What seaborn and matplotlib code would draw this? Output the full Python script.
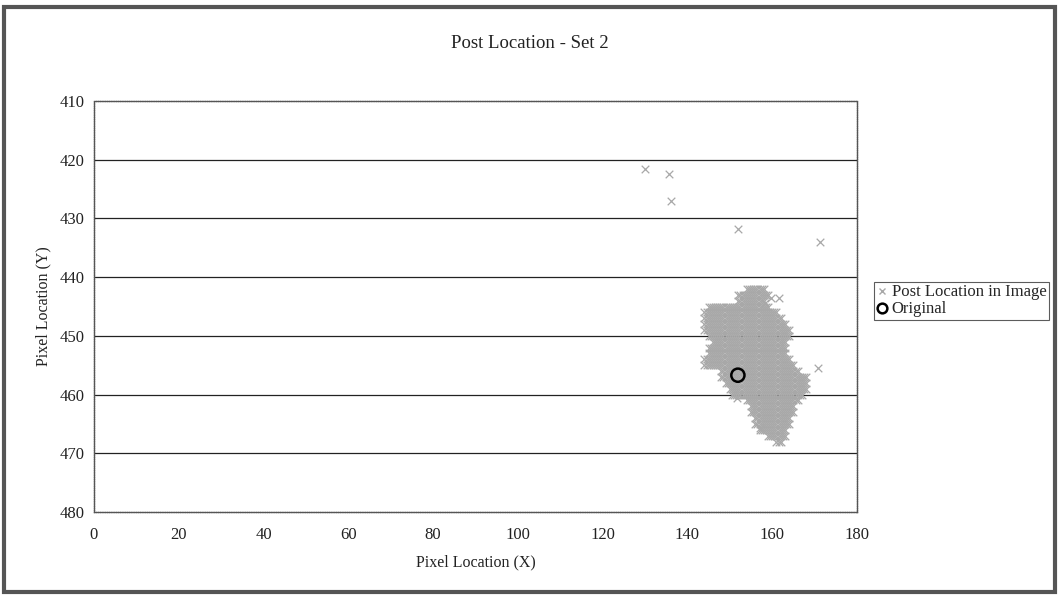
import numpy as np
import pandas as pd
import matplotlib
matplotlib.use("Agg")
import matplotlib.pyplot as plt
import seaborn as sns
from matplotlib.lines import Line2D
from matplotlib.patches import Rectangle

# ---- data ----
# isolated detections (x, y)
outlier_x = [130.0, 135.6, 136.1, 151.9, 171.3, 170.8, 157.0, 150.5, 151.8, 159.8, 161.6, 158.2]
outlier_y = [421.6, 422.4, 427.0, 431.8, 434.0, 455.5, 465.7, 460.0, 460.6, 443.6, 443.6, 444.4]

# dense cluster, row by row: y value and the x extent occupied in that row
cluster_row_y = [442, 443, 444, 445, 446, 447, 448, 449, 450, 451, 452, 453, 454, 455,
                 456, 457, 458, 459, 460, 461, 462, 463, 464, 465, 466, 467, 468]
cluster_row_xmin = [154, 152, 152, 145, 144, 144, 144, 144, 145, 146, 145, 145, 144, 144,
                    148, 148, 149, 150, 151, 154, 155, 155, 156, 156, 157, 159, 161]
cluster_row_xmax = [158, 159, 158, 159, 161, 162, 163, 164, 164, 163, 163, 163, 164, 165,
                    166, 168, 168, 168, 167, 166, 165, 165, 164, 164, 163, 163, 162]

original_x = [151.9]
original_y = [456.7]

x_ticks = [0, 20, 40, 60, 80, 100, 120, 140, 160, 180]
y_ticks = [410, 420, 430, 440, 450, 460, 470, 480]

# ---- build table ----
cx, cy = [], []
for y, a, b in zip(cluster_row_y, cluster_row_xmin, cluster_row_xmax):
    for x in np.arange(a, b + 0.01, 0.5):
        cx.append(x)
        cy.append(y)
post = pd.DataFrame({"x": cx + outlier_x, "y": cy + outlier_y})
orig = pd.DataFrame({"x": original_x, "y": original_y})

sns.set_theme(style="white")
plt.rcParams["font.family"] = ["Liberation Serif", "DejaVu Serif"]

fig = plt.figure(figsize=(10.59, 5.96), dpi=100)
ax = fig.add_axes([94 / 1059, 1 - 512 / 596, (857 - 94) / 1059, (512 - 101) / 596])

gray = "#a8a8a8"
sns.scatterplot(data=post, x="x", y="y", ax=ax, marker="x", color=gray,
                s=30, linewidth=0.9, legend=False, zorder=3)
sns.scatterplot(data=orig, x="x", y="y", ax=ax, marker="o", facecolor="none",
                edgecolor="black", s=90, linewidth=1.8, legend=False, zorder=4)

ax.set_xlim(0, 180)
ax.set_ylim(480, 410)
ax.set_xticks(x_ticks)
ax.set_yticks(y_ticks)
ax.tick_params(axis="both", labelsize=12, colors="#222222", length=4,
               direction="out", width=0.8)
ax.tick_params(axis="x", pad=7)
ax.tick_params(axis="y", pad=3)
for yv in y_ticks[1:-1]:
    ax.axhline(yv, color="#222222", linewidth=0.9, zorder=1)
for sp in ax.spines.values():
    sp.set_color("#555555")
    sp.set_linewidth(1.0)
    sp.set_linestyle((0, (1, 0.6)))
    sp.set_visible(True)

ax.set_xlabel("Pixel Location (X)", fontsize=11.5, color="#222222", labelpad=8)
ax.set_ylabel("Pixel Location (Y)", fontsize=11.5, color="#222222", labelpad=6)
fig.text(0.5, 1 - 44 / 596, "Post Location - Set 2", ha="center", va="center",
         fontsize=13.5, color="#222222")

handles = [
    Line2D([], [], marker="x", linestyle="none", color=gray, markersize=5, markeredgewidth=1.0),
    Line2D([], [], marker="o", linestyle="none", markerfacecolor="none",
           markeredgecolor="black", markersize=7, markeredgewidth=1.8),
]
leg = fig.legend(handles, ["Post Location in Image", "Original"],
                 loc="upper left", bbox_to_anchor=(874 / 1059, 1 - 282 / 596),
                 fontsize=12, frameon=True, fancybox=False, handlelength=0.6,
                 handletextpad=0.3, borderpad=0.15, labelspacing=0.05,
                 borderaxespad=0)
leg.get_frame().set_edgecolor("#333333")
leg.get_frame().set_linewidth(0.8)

fig.patches.append(Rectangle((0.004, 0.006), 0.992, 0.982, transform=fig.transFigure,
                             fill=False, edgecolor="#555555", linewidth=3))

fig.savefig("out.png", dpi=100)
